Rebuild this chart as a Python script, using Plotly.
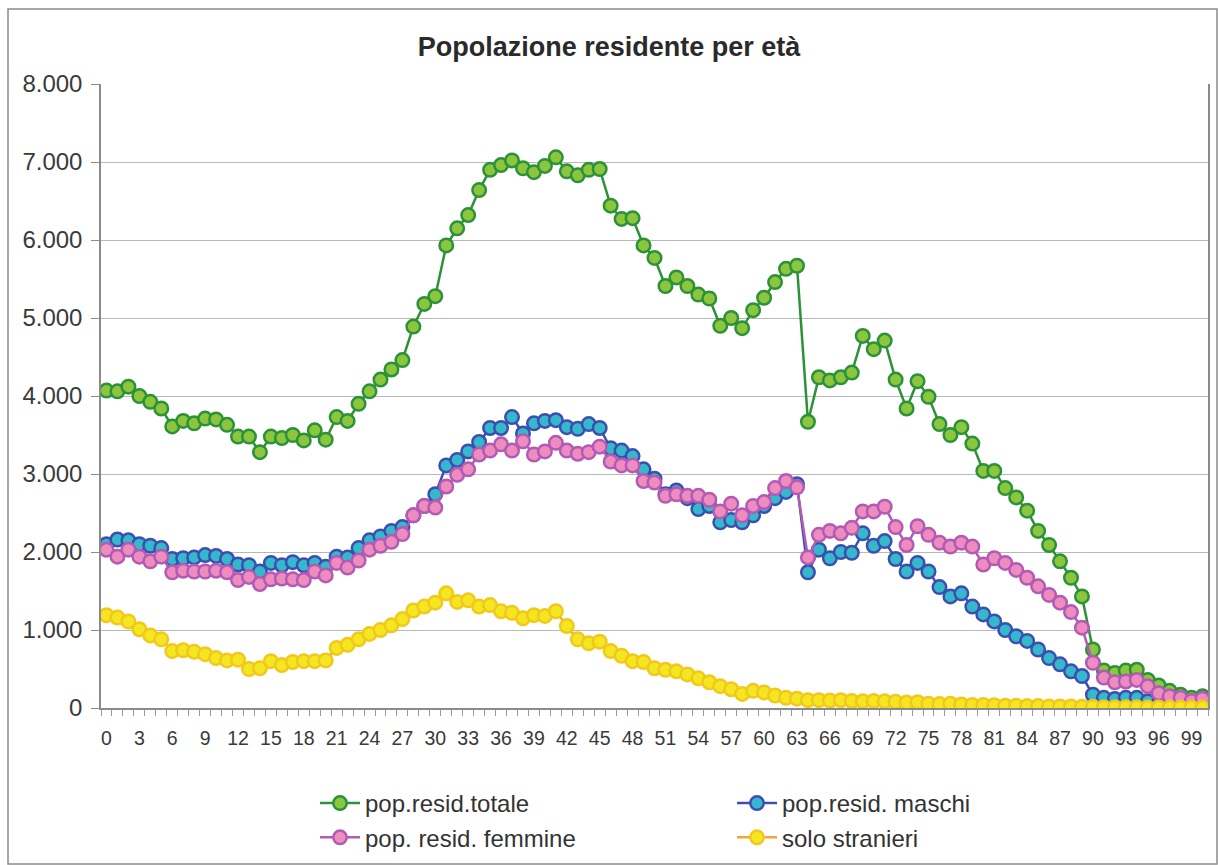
import plotly.graph_objects as go

ages = list(range(0, 101))

pop_totale = [
    4070, 4060, 4120, 4000, 3925, 3840, 3610, 3680, 3650, 3710,
    3700, 3630, 3480, 3480, 3280, 3480, 3460, 3500, 3430, 3560,
    3440, 3730, 3680, 3900, 4060, 4210, 4340, 4460, 4890, 5180,
    5280, 5930, 6150, 6320, 6640, 6900, 6960, 7020, 6920, 6870,
    6950, 7060, 6880, 6830, 6900, 6910, 6440, 6270, 6280, 5930,
    5770, 5410, 5520, 5410, 5300, 5250, 4900, 5000, 4870, 5100,
    5260, 5460, 5630, 5670, 3670, 4240, 4200, 4240, 4300, 4770,
    4600, 4710, 4210, 3840, 4190, 3990, 3640, 3500, 3600, 3390,
    3040, 3040, 2820, 2700, 2530, 2270, 2090, 1880, 1670, 1430,
    750, 480, 450, 480, 490, 360, 290, 220, 170, 130,
    150,
]

pop_maschi = [
    2100, 2160, 2150, 2100, 2080, 2050, 1910, 1920, 1930, 1960,
    1950, 1910, 1840, 1830, 1750, 1860, 1830, 1870, 1830, 1860,
    1810, 1940, 1930, 2050, 2150, 2200, 2270, 2320, 2470, 2590,
    2740, 3110, 3180, 3290, 3410, 3590, 3590, 3730, 3520, 3650,
    3680, 3690, 3600, 3580, 3640, 3590, 3330, 3300, 3230, 3060,
    2940, 2740, 2790, 2690, 2550, 2590, 2380, 2410, 2380, 2470,
    2590, 2690, 2770, 2870, 1740, 2030, 1920, 2000, 1990, 2240,
    2080, 2140, 1910, 1750, 1860, 1750, 1550, 1430, 1470, 1300,
    1200, 1110, 1000, 920, 860, 750, 640, 560, 470, 410,
    170, 130, 115, 130, 130, 85, 60, 50, 40, 35,
    30,
]

pop_femmine = [
    2030, 1940, 2030, 1940, 1880, 1940, 1740, 1760, 1750, 1750,
    1760, 1740, 1640, 1680, 1590, 1650, 1660, 1650, 1640, 1750,
    1700, 1860, 1800, 1890, 2030, 2080, 2130, 2230, 2470, 2590,
    2570, 2840, 2990, 3060, 3250, 3300, 3380, 3300, 3420, 3250,
    3290, 3400, 3300, 3260, 3280, 3350, 3160, 3110, 3110, 2910,
    2890, 2720, 2740, 2720, 2720, 2670, 2520, 2620, 2470, 2590,
    2640, 2820, 2910, 2830, 1930, 2220, 2270, 2240, 2310, 2520,
    2520, 2580, 2320, 2090, 2330, 2220, 2120, 2070, 2120, 2070,
    1840, 1920, 1860, 1770, 1670, 1560, 1450, 1350, 1230, 1030,
    580, 390, 330, 340, 360, 280, 190, 150, 130, 90,
    120,
]

stranieri = [
    1190, 1160, 1110, 1010, 930, 880, 730, 740, 720, 690,
    640, 610, 620, 500, 510, 600, 550, 590, 600, 600,
    610, 770, 810, 880, 950, 1000, 1060, 1140, 1250, 1300,
    1350, 1470, 1360, 1380, 1300, 1320, 1240, 1220, 1150, 1190,
    1180, 1240, 1050, 880, 830, 850, 730, 670, 600, 590,
    510, 490, 470, 430, 380, 330, 280, 240, 180, 220,
    200, 160, 130, 120, 100, 100, 95, 100, 90, 85,
    90, 85, 80, 70, 75, 55, 50, 55, 45, 40,
    40, 35, 30, 30, 25, 25, 20, 20, 20, 15,
    15, 10, 10, 10, 10, 5, 5, 5, 5, 5,
    5,
]

tick_ages = list(range(0, 100, 3))

# name, values, line colour, marker fill, marker edge, legend column
series = [
    ("pop.resid.totale", pop_totale, "#2b9238", "#8cc63f", "#2b9238", "legend"),
    ("pop.resid. maschi", pop_maschi, "#3a4fb0", "#35b8cc", "#3a4fb0", "legend2"),
    ("pop. resid. femmine", pop_femmine, "#b25bb5", "#ee8cc0", "#b25bb5", "legend"),
    ("solo stranieri", stranieri, "#f4a43a", "#f5e622", "#f2c81a", "legend2"),
]

FONT = "Liberation Sans, Arial, sans-serif"

fig = go.Figure()
for name, values, line_col, fill_col, edge_col, leg in series:
    fig.add_trace(go.Scatter(
        x=ages, y=values, name=name, mode="lines+markers", legend=leg,
        line=dict(color=line_col, width=2.5),
        marker=dict(symbol="circle", size=13.5, color=fill_col,
                    line=dict(color=edge_col, width=2.5)),
    ))

L, R, T, B = 101, 10, 84, 157
W, H = 1218, 865
pw, ph = W - L - R, H - T - B


def px_x(p):
    return (p - L) / pw


def px_y(p):
    return (H - B - p) / ph


legend_style = dict(orientation="v", xanchor="left", yanchor="top",
                    itemwidth=40, tracegroupgap=0, borderwidth=0,
                    font=dict(family=FONT, size=24, color="#333333"),
                    bgcolor="rgba(0,0,0,0)")

fig.update_layout(
    width=W, height=H,
    margin=dict(l=L, r=R, t=T, b=B, autoexpand=False),
    paper_bgcolor="white", plot_bgcolor="white",
    separators=",.",
    font=dict(family=FONT, color="#3a3a3a"),
    title=dict(text="<b>Popolazione residente per età</b>",
               x=0.5, xanchor="center", y=1 - 47 / H, yanchor="middle",
               font=dict(family=FONT, size=27, color="#2a2a2a")),
    showlegend=True,
    legend=dict(x=px_x(315), y=px_y(781), **legend_style),
    legend2=dict(x=px_x(732), y=px_y(781), **legend_style),
    xaxis=dict(range=[-0.5, 100.5], tickmode="array", tickvals=tick_ages,
               ticktext=[str(a) for a in tick_ages],
               showgrid=False, zeroline=False,
               showline=True, linecolor="#8a8a8a", linewidth=1.5,
               ticks="", ticklabelstandoff=12,
               tickfont=dict(family=FONT, size=19.5, color="#3a3a3a"),
               minor=dict(ticks="outside", tick0=0.5, dtick=1, ticklen=6,
                          tickcolor="#9a9a9a", showgrid=False),
               fixedrange=True),
    yaxis=dict(range=[0, 8000], dtick=1000, tickformat=",d",
               showgrid=True, gridcolor="#b8b8b8", gridwidth=1.2,
               zeroline=False, showline=True, linecolor="#8a8a8a",
               linewidth=1.5, mirror=True,
               ticks="outside", ticklen=8, tickcolor="#8a8a8a",
               ticklabelstandoff=4,
               tickfont=dict(family=FONT, size=24, color="#3a3a3a"),
               fixedrange=True),
    shapes=[dict(type="rect", xref="paper", yref="paper",
                 x0=px_x(8), x1=px_x(1217), y0=px_y(864), y1=px_y(9),
                 line=dict(color="#8a8a8a", width=1.5), layer="below")],
)

fig.write_html("out.html")
